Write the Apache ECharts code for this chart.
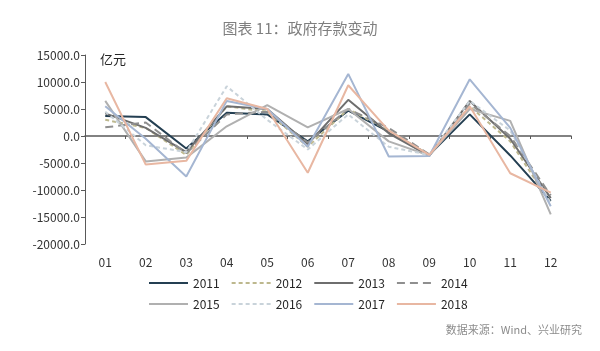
<!DOCTYPE html>
<html>
<head>
<meta charset="utf-8">
<script src="https://cdn.jsdelivr.net/npm/echarts@6/dist/echarts.min.js"></script>
<style>
html,body{margin:0;padding:0;background:#fff;}
#main{width:600px;height:351px;}
</style>
</head>
<body>
<div id="main"></div>
<script>
var months = ['01','02','03','04','05','06','07','08','09','10','11','12'];
// 单位：亿元
var y2011 = [3700, 3500, -2300, 4300, 4000, -1000, 4700, 800, -3500, 4000, -3600, -12000];
var y2012 = [3000, 1500, -3500, 5500, 4500, -2000, 5000, 1000, -3500, 5500, -1000, -12500];
var y2013 = [4200, 1500, -3000, 5500, 5000, -1500, 6700, 500, -3700, 6500, -500, -11500];
var y2014 = [1600, 2500, -3200, 4000, 4500, -1200, 5000, 1500, -3400, 6000, 0, -11000];
var y2015 = [6500, -4700, -4000, 1800, 5700, 1600, 5000, -1000, -3600, 5000, 2800, -14500];
var y2016 = [4500, -1700, -3000, 9200, 3000, -2500, 4000, -2000, -3500, 6500, 1000, -12500];
var y2017 = [5500, -500, -7500, 6500, 5000, -2000, 11500, -3800, -3700, 10500, 1500, -13000];
var y2018 = [10000, -5300, -4600, 7000, 5000, -6800, 9400, 1000, -3500, 5500, -6900, -10500];

var yearNames = ['2011','2012','2013','2014','2015','2016','2017','2018'];
var yearData = [y2011, y2012, y2013, y2014, y2015, y2016, y2017, y2018];
var colors = ['#243f52','#bdb88e','#6e6e6e','#8f8f8f','#b0b0b0','#c9d3da','#a5b6d2','#e8b7a2'];
var dashes = ['solid',[4,3],'solid',[8,5],'solid',[4,3],'solid','solid'];

var dom = document.getElementById('main');
var myChart = echarts.init(dom);

var series = [];
for (var i = 0; i < yearNames.length; i++) {
    series.push({
        name: yearNames[i],
        type: 'line',
        data: yearData[i],
        symbol: 'none',
        xAxisIndex: 0,
        lineStyle: { color: colors[i], width: 2, type: dashes[i] },
        itemStyle: { color: colors[i] }
    });
}

var legendBase = {
    left: 143,
    itemWidth: 39,
    itemHeight: 14,
    itemGap: 11,
    itemStyle: { opacity: 0 },
    textStyle: { fontSize: 12, color: '#262626' }
};

var option = {
    textStyle: { fontFamily: 'Noto Sans CJK SC' },
    title: {
        text: '图表 11：政府存款变动',
        left: 'center',
        top: 16,
        textStyle: { color: '#7f7f7f', fontSize: 15, fontWeight: 'normal' }
    },
    legend: [
        Object.assign({}, legendBase, { data: yearNames.slice(0, 4), top: 272 }),
        Object.assign({}, legendBase, { data: yearNames.slice(4), top: 293 })
    ],
    grid: { left: 85, right: 29, top: 55, bottom: 107 },
    xAxis: [{
        type: 'category',
        data: months,
        axisLine: { onZero: true, lineStyle: { color: '#595959', width: 1.5 } },
        axisTick: { show: true, length: 3, lineStyle: { color: '#595959' } },
        axisLabel: { show: false }
    }, {
        type: 'category',
        data: months,
        position: 'bottom',
        axisLine: { show: false, onZero: false },
        axisTick: { show: false },
        axisLabel: { color: '#333', fontSize: 12, margin: 12 }
    }],
    yAxis: {
        type: 'value',
        min: -20000,
        max: 15000,
        interval: 5000,
        splitLine: { show: false },
        axisLine: { show: true, lineStyle: { color: '#595959' } },
        axisTick: { show: true, length: 4, lineStyle: { color: '#595959' } },
        axisLabel: {
            color: '#333',
            fontSize: 12,
            margin: 5,
            formatter: function (v) { return v.toFixed(1); }
        }
    },
    graphic: [{
        type: 'text',
        left: 100,
        top: 53,
        style: { text: '亿元', fontSize: 13, fill: '#262626', fontFamily: 'Noto Sans CJK SC' }
    }, {
        type: 'text',
        right: 18,
        top: 324,
        style: { text: '数据来源：Wind、兴业研究', fontSize: 11, fill: '#8c8c8c', fontFamily: 'Noto Sans CJK SC' }
    }],
    series: series
};

if (option && typeof option === "object") {
    myChart.setOption(option, true);
}
</script>
</body>
</html>
